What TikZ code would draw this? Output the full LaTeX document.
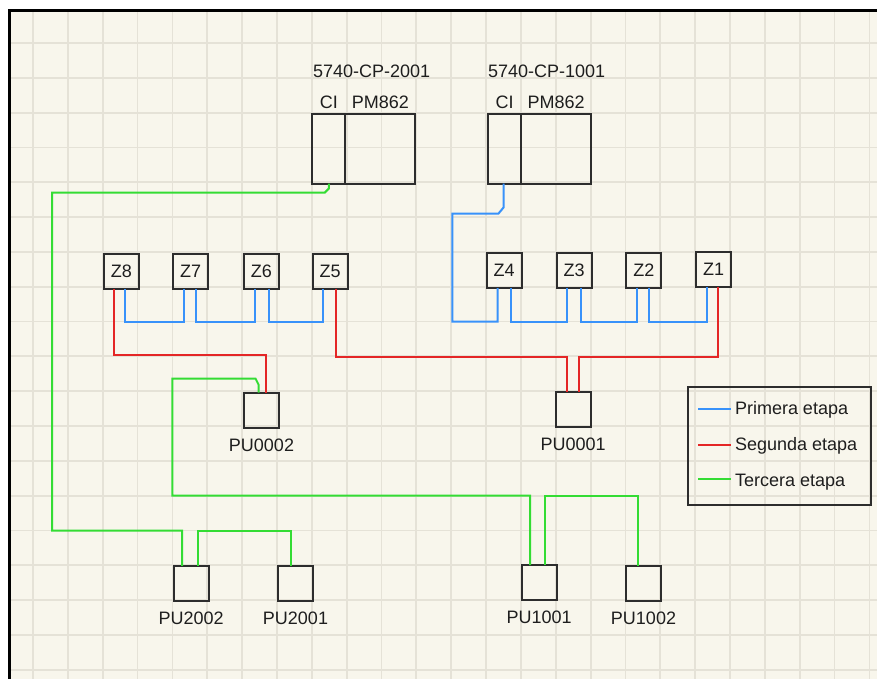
\documentclass[tikz,border=0pt]{standalone}
\usepackage{fontspec}
\setmainfont{Liberation Sans}
\usepackage{xcolor}
\usepackage{tikz}
\usetikzlibrary{positioning}
\definecolor{paper}{RGB}{248,246,236}
\definecolor{gridtan}{RGB}{229,226,215}
\definecolor{boxgray}{RGB}{45,45,45}
\definecolor{inkgray}{RGB}{30,30,30}
\definecolor{wireblue}{RGB}{56,146,250}
\definecolor{wirered}{RGB}{228,38,38}
\definecolor{wiregreen}{RGB}{52,220,52}
\newcommand{\lblsize}{\fontsize{18pt}{21pt}\selectfont}
\tikzset{
  zonebox/.style={rectangle,draw=boxgray,line width=2pt,minimum size=35pt,
    inner sep=0pt,outer sep=0pt,font=\lblsize,text=inkgray},
  pubox/.style={rectangle,draw=boxgray,line width=2pt,minimum size=35pt,
    inner sep=0pt,outer sep=0pt},
  cibox/.style={rectangle,draw=boxgray,line width=2pt,minimum width=33.3pt,
    minimum height=69.5pt,inner sep=0pt,outer sep=0pt},
  pmbox/.style={cibox,minimum width=70pt},
  legbox/.style={rectangle,draw=boxgray,line width=2pt,inner sep=0pt,
    outer sep=0pt,minimum width=182.4pt,minimum height=118.3pt},
  lbl/.style={font=\lblsize,text=inkgray,inner sep=0pt,outer sep=0pt},
  gridline/.style={draw=gridtan,line width=1.8pt},
  bluewire/.style={draw=wireblue,line width=2pt},
  redwire/.style={draw=wirered,line width=2pt},
  greenwire/.style={draw=wiregreen,line width=2pt}
}

\begin{document}
\begin{tikzpicture}[x=1pt,y=-1pt]
  \useasboundingbox (0,0) rectangle (877,679);

  % paper and grid
  \fill[paper] (9.7,10.5) rectangle (877,679);
  \foreach \k in {0,...,24}
    \draw[gridline] ({33+34.85*\k},12) -- ({33+34.85*\k},679);
  \foreach \k in {0,...,18}
    \draw[gridline] (11,{43+34.82*\k}) -- (877,{43+34.82*\k});
  \draw[line width=2.8pt] (9.7,679) -- (9.7,10.5) -- (877,10.5);

  % controllers
  \node[cibox] (ci2001) at (328.8,148.8) {};
  \node[pmbox,right=0pt of ci2001] (pm2001) {};
  \node[lbl,above=5.5pt of ci2001] (cilbl2001) {CI};
  \node[lbl,above=5.5pt of pm2001] (pmlbl2001) {PM862};
  \node[lbl,anchor=base] (cp2001) at (371.7,77.5) {5740-CP-2001};

  \node[cibox] (ci1001) at (504.5,148.8) {};
  \node[pmbox,right=0pt of ci1001] (pm1001) {};
  \node[lbl,above=5.5pt of ci1001] (cilbl1001) {CI};
  \node[lbl,above=5.5pt of pm1001] (pmlbl1001) {PM862};
  \node[lbl,anchor=base] (cp1001) at (546.7,77.5) {5740-CP-1001};

  % zones
  \node[zonebox] (z8) at (121.5,271.5) {Z8};
  \node[zonebox] (z7) at (190.7,271.5) {Z7};
  \node[zonebox] (z6) at (261.3,271) {Z6};
  \node[zonebox] (z5) at (330.2,271) {Z5};
  \node[zonebox] (z4) at (504.2,270.5) {Z4};
  \node[zonebox] (z3) at (574,270.5) {Z3};
  \node[zonebox] (z2) at (643.8,270) {Z2};
  \node[zonebox] (z1) at (713.5,269.5) {Z1};

  % process units
  \node[pubox] (pu0002) at (261.5,410) {};
  \node[pubox] (pu0001) at (573.2,409.2) {};
  \node[pubox] (pu2002) at (191.2,583.3) {};
  \node[pubox] (pu2001) at (295.5,583.8) {};
  \node[pubox] (pu1001) at (539.2,582.5) {};
  \node[pubox] (pu1002) at (643.5,583.5) {};
  \node[lbl,below=11pt of pu0002] (pulbl0002) {PU0002};
  \node[lbl,below=11pt of pu0001] (pulbl0001) {PU0001};
  \node[lbl,below=11pt of pu2002] (pulbl2002) {PU2002};
  \node[lbl,below=11pt of pu2001] (pulbl2001) {PU2001};
  \node[lbl,below=11pt of pu1001] (pulbl1001) {PU1001};
  \node[lbl,below=11pt of pu1002] (pulbl1002) {PU1002};

  % first stage
  \coordinate (bluedrop) at (452.3,321.5);
  \draw[bluewire] ([xshift=-1pt]ci1001.south) -- ++(0,24) -- ++(-5,6)
    -| (bluedrop) -| ([xshift=-6.5pt]z4.south);
  \draw[bluewire] ([xshift=6.5pt]z4.south) -- ++(0,33.5) -| ([xshift=-6.7pt]z3.south);
  \draw[bluewire] ([xshift=7pt]z3.south) -- ++(0,33.5) -| ([xshift=-7pt]z2.south);
  \draw[bluewire] ([xshift=5.5pt]z2.south) -- ++(0,34) -| ([xshift=-6.8pt]z1.south);
  \draw[bluewire] ([xshift=3pt]z8.south) -- ++(0,32.5) -| ([xshift=-6.4pt]z7.south);
  \draw[bluewire] ([xshift=5.3pt]z7.south) -- ++(0,32.5) -| ([xshift=-6.6pt]z6.south);
  \draw[bluewire] ([xshift=7.7pt]z6.south) -- ++(0,33) -| ([xshift=-7pt]z5.south);

  % second stage
  \draw[redwire] ([xshift=-7.2pt]z8.south) -- ++(0,66) -| ([xshift=4.5pt]pu0002.north);
  \draw[redwire] ([xshift=5.8pt]z5.south) -- ++(0,68.5) -| ([xshift=-6.5pt]pu0001.north);
  \draw[redwire] ([xshift=4.8pt]z1.south) -- ++(0,69.5) -| ([xshift=6pt]pu0001.north);

  % third stage
  \coordinate (greendrop) at (52,530.5);
  \coordinate (greenloop) at (172.3,495.7);
  \draw[greenwire] (ci2001.south) -- ++(0,5) -- ++(-4,4)
    -| (greendrop) -| ([xshift=-9pt]pu2002.north);
  \draw[greenwire] ([xshift=6.5pt]pu2002.north) -- ++(0,-35) -| ([xshift=-4.5pt]pu2001.north);
  \draw[greenwire] ([xshift=-3pt]pu0002.north) -- ++(0,-8) -- ++(-3,-6)
    -| (greenloop) -| ([xshift=-9pt]pu1001.north);
  \draw[greenwire] ([xshift=5.8pt]pu1001.north) -- ++(0,-69.3) -| ([xshift=-5.8pt]pu1002.north);

  % legend
  \node[legbox] (legend) at (779.5,445.9) {};
  \node[lbl,anchor=base west] (legblue) at (735,414) {Primera etapa};
  \node[lbl,anchor=base west] (legred) at (735,450.5) {Segunda etapa};
  \node[lbl,anchor=base west] (leggreen) at (735,486.5) {Tercera etapa};
  \coordinate (kblue) at (698.3,409.3);
  \coordinate (kred) at (698.3,445);
  \coordinate (kgreen) at (698.3,479);
  \draw[bluewire] (kblue) -- ++(32.4,0);
  \draw[redwire] (kred) -- ++(32.4,0);
  \draw[greenwire] (kgreen) -- ++(32.4,0);
\end{tikzpicture}
\end{document}
